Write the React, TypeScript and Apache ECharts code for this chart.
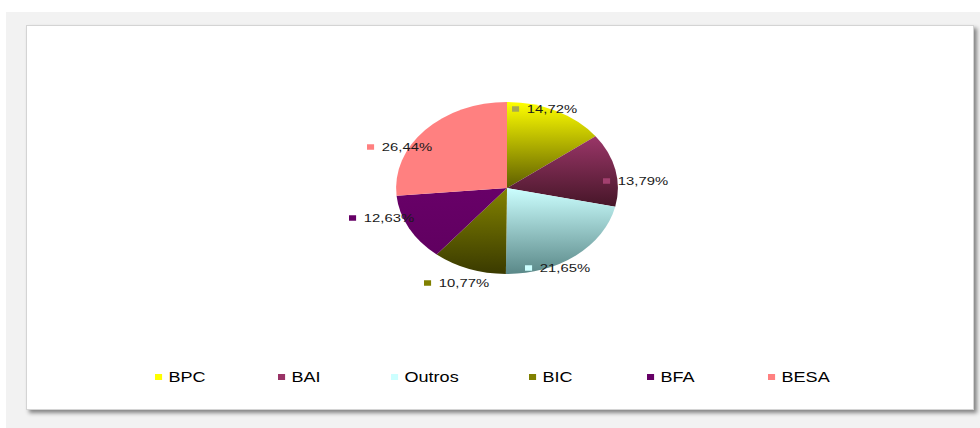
import React, { useEffect, useRef } from "react";
import * as echarts from "echarts";

// ---- data ----
const categories = ["BPC", "BAI", "Outros", "BIC", "BFA", "BESA"];
const shares = [14.72, 13.79, 21.65, 10.77, 12.63, 26.44];

// ---- styles / layout ----
const gradientStops = [
  ["#ffff00", "#5e5e00"],
  ["#9a3668", "#461628"],
  ["#ccffff", "#5a8888"],
  ["#838300", "#3a3a00"],
  ["#680068", "#600060"],
  ["#ff8080", "#ff8080"],
];
const markerColors = ["#a8a850", "#a3406f", "#ccffff", "#808000", "#660066", "#ff8080"];
const legendColors = ["#ffff00", "#993366", "#ccffff", "#808000", "#660066", "#ff8080"];
// The reference is horizontally stretched; the chart is drawn narrower then scaled.
const VIEW_W = 980;
const VIEW_H = 428;
const INNER_W = 760;
const S = VIEW_W / INNER_W;
// label marker anchors (left x, middle y) in page pixels
const labelAnchors = [
  [512, 109],
  [603, 181],
  [525, 268],
  [424, 283],
  [349, 218],
  [367, 147],
];
const legendLeft = [155, 278, 391, 529, 647, 768];
const legendTop = 370;
const FONT = "'Liberation Sans', Arial, Helvetica, sans-serif";

const fmt = (v: number) => v.toFixed(2).replace(".", ",") + "%";

export default function App() {
  const ref = useRef<HTMLDivElement>(null);

  useEffect(() => {
    if (!ref.current) return;
    const chart = echarts.init(ref.current, undefined, { renderer: "svg" });

    const rich: Record<string, any> = {
      v: { fontSize: 11.5, fontFamily: FONT, color: "#1a1a1a", padding: [0, 0, 0, 6] },
    };
    markerColors.forEach((c, i) => {
      rich["m" + i] = { width: 5.5, height: 5.5, backgroundColor: c };
    });

    const data = categories.map((name, i) => ({
      name,
      value: shares[i],
      itemStyle: {
        color: new echarts.graphic.LinearGradient(0, 0, 0, 1, [
          { offset: 0, color: gradientStops[i][0] },
          { offset: 1, color: gradientStops[i][1] },
        ]),
      },
    }));

    const legends = categories.map((name, i) => ({
      data: [name],
      left: legendLeft[i] / S,
      top: legendTop,
      padding: 0,
      icon: "rect",
      itemWidth: 5.5,
      itemHeight: 6,
      selectedMode: false,
      itemStyle: { color: legendColors[i] },
      textStyle: { fontSize: 14, fontFamily: FONT, color: "#000" },
    }));

    chart.setOption({
      animation: false,
      backgroundColor: "transparent",
      legend: legends,
      series: [
        {
          type: "pie",
          center: [507 / S, 188],
          radius: 86,
          startAngle: 90,
          clockwise: true,
          avoidLabelOverlap: false,
          emphasis: { disabled: true },
          itemStyle: { borderWidth: 0 },
          label: {
            show: true,
            position: "outside",
            formatter: (p: any) => `{m${p.dataIndex}|}{v|${fmt(p.value)}}`,
            rich,
          },
          labelLine: { show: false },
          labelLayout: (p: any) => ({
            x: labelAnchors[p.dataIndex][0] / S,
            y: labelAnchors[p.dataIndex][1],
            align: "left",
            verticalAlign: "middle",
          }),
          data,
        },
      ],
    });

    return () => chart.dispose();
  }, []);

  return (
    <div
      style={{
        position: "fixed",
        left: 0,
        top: 0,
        width: VIEW_W,
        height: VIEW_H,
        overflow: "hidden",
        background: "#ffffff",
      }}
    >
      <div
        style={{
          position: "absolute",
          left: 6,
          top: 12,
          width: VIEW_W - 6,
          height: VIEW_H - 12,
          background: "#f2f2f2",
        }}
      />
      <div
        style={{
          position: "absolute",
          left: 26,
          top: 25,
          width: 946,
          height: 383,
          background: "#ffffff",
          border: "1px solid #d4d4d4",
          boxShadow: "3px 3px 4px rgba(0,0,0,0.45)",
        }}
      />
      <div
        ref={ref}
        style={{
          position: "absolute",
          left: 0,
          top: 0,
          width: INNER_W,
          height: VIEW_H,
          transform: `scaleX(${S})`,
          transformOrigin: "0 0",
        }}
      />
    </div>
  );
}
